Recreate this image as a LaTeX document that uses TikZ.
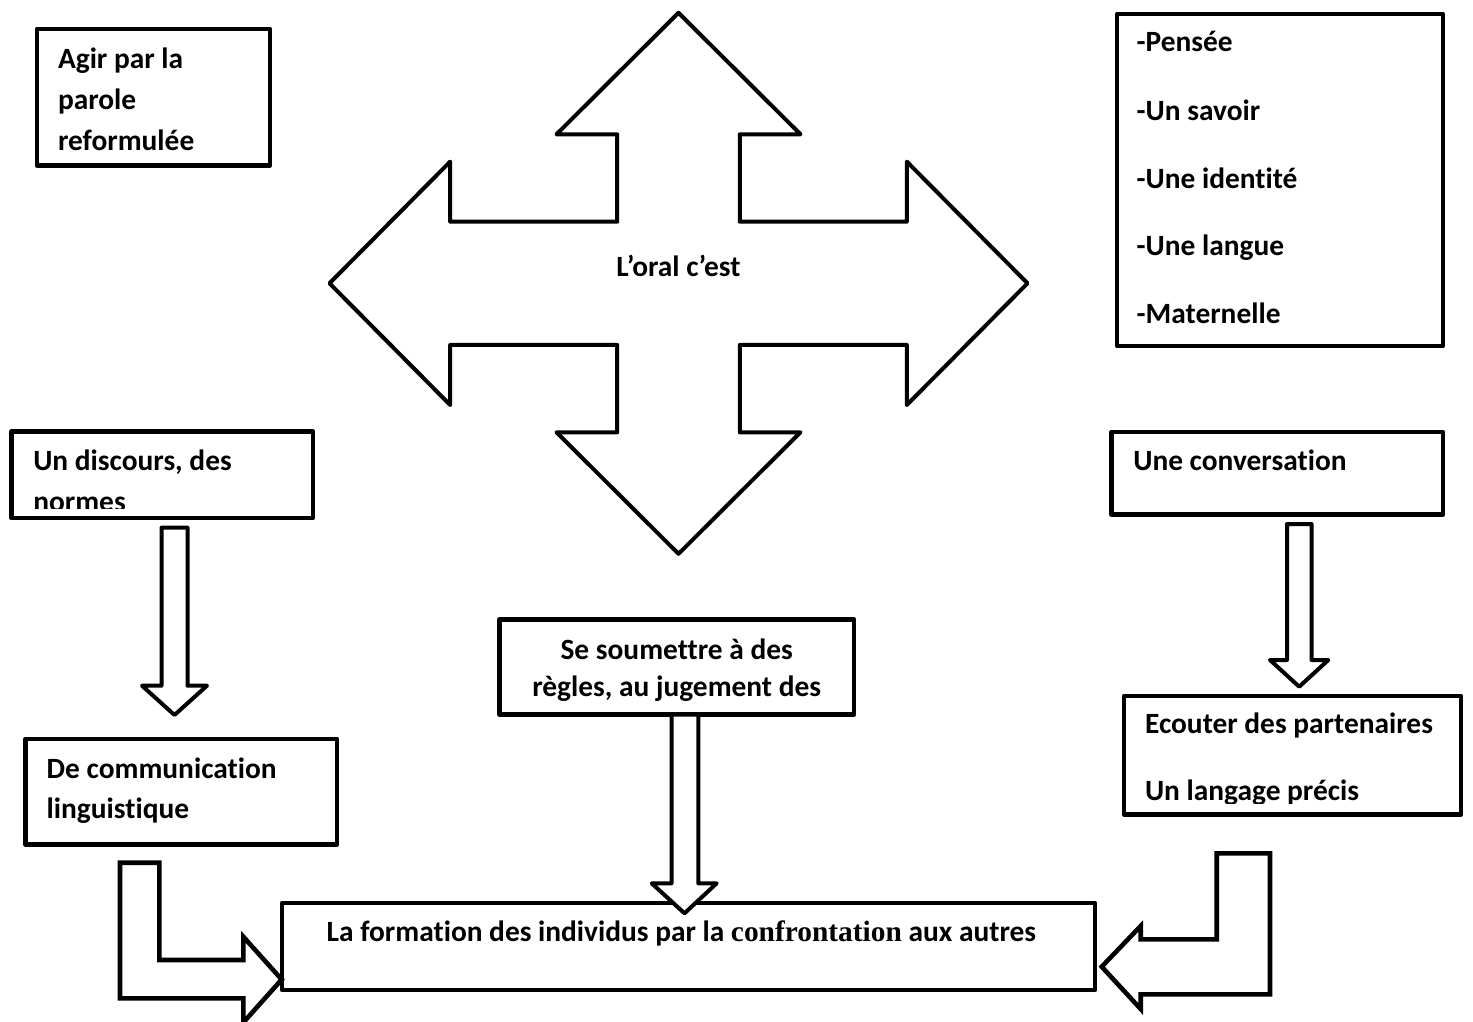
\documentclass[tikz,border=0pt]{standalone}
\usepackage{fontspec}
\setmainfont{Carlito}[Ligatures=NoCommon, RawFeature={-liga;-clig;-calt;-dlig}]
\newfontfamily\serifb{Liberation Serif}[Ligatures=NoCommon]
\newcommand\labfont{\bfseries\fontsize{29.4}{35}\selectfont}
\begin{document}
\begin{tikzpicture}[x=1pt,y=-1pt,
  box/.style={draw, line width=4.4pt, line join=round, inner sep=0pt, outer sep=0pt, anchor=north west},
  txt/.style={inner sep=0pt, outer sep=0pt, anchor=base west, font=\labfont},
  ctxt/.style={inner sep=0pt, outer sep=0pt, anchor=base, font=\labfont},
  blockarrow/.style={draw, fill=white, line width=4pt, line join=round},
  bentarrow/.style={draw, fill=white, line width=4.6pt, line join=miter},
]
\useasboundingbox (0,0) rectangle (1473,1021);

% ---- boxes
\node[box, minimum width=232.7pt, minimum height=136.7pt] (agir) at (37,28.8) {};
\node[box, minimum width=326pt, minimum height=332pt] (pensee) at (1117,14) {};
\node[box, minimum width=301.5pt, minimum height=86.5pt] (discours) at (11.5,431.5) {};
\node[box, minimum width=311.5pt, minimum height=105.5pt] (comm) at (25.5,739) {};
\node[box, minimum width=331.5pt, minimum height=82.5pt] (conv) at (1111.5,432) {};
\node[box, minimum width=337pt, minimum height=118.5pt] (ecout) at (1124,696) {};
\node[box, minimum width=354.5pt, minimum height=95pt] (soum) at (499.5,619.5) {};
\node[box, minimum width=813pt, minimum height=87pt] (form) at (282,903) {};

% ---- central cross
\begin{scope}[shift={(678.5,283.3)}]
\draw[blockarrow]
  (0,-270.5) -- (122,-149) -- (61.3,-149) -- (61.3,-61.6) -- (228.3,-61.6) -- (228.3,-121.7)
  -- (349,0) -- (228.3,121.7) -- (228.3,61.6) -- (61.3,61.6) -- (61.3,149) -- (122,149)
  -- (0,270.5) -- (-122,149) -- (-61.3,149) -- (-61.3,61.6) -- (-228.3,61.6) -- (-228.3,121.7)
  -- (-349,0) -- (-228.3,-121.7) -- (-228.3,-61.6) -- (-61.3,-61.6) -- (-61.3,-149) -- (-122,-149)
  -- cycle;
\end{scope}
\node[ctxt] (oral) at (678.5,276.7) {L’oral c’est};

% ---- down arrows
\draw[blockarrow] (161.5,527.7) -- (187.5,527.7) -- (187.5,685.7) -- (207,685.7)
  -- (174.5,715) -- (142,685.7) -- (161.5,685.7) -- cycle;
\draw[blockarrow] (1287,524) -- (1311.5,524) -- (1311.5,660) -- (1328.3,660)
  -- (1299.2,686.7) -- (1270,660) -- (1287,660) -- cycle;
\draw[blockarrow] (671.5,714.5) -- (698.3,714.5) -- (698.3,883.3) -- (716.7,883.3)
  -- (684.5,913.3) -- (651.7,883.3) -- (671.5,883.3) -- cycle;

% ---- bent arrows
\draw[bentarrow] (120,862.7) -- (159.3,862.7) -- (159.3,960) -- (243.3,960) -- (243.3,936.7)
  -- (281.7,979.5) -- (243.3,1022.5) -- (243.3,998.3) -- (120,998.3) -- cycle;
\draw[bentarrow] (1270,853.3) -- (1216.7,853.3) -- (1216.7,939.3) -- (1140.7,939.3) -- (1140.7,926)
  -- (1101.7,966.7) -- (1140.7,1009) -- (1140.7,994.3) -- (1270,994.3) -- cycle;

% ---- texts
\node[txt] (agirA) at (58,68) {Agir par la};
\node[txt] (agirB) at (58,109) {parole};
\node[txt] (agirC) at (58,150) {reformulée};

\node[txt] (penA) at (1136.7,51.7) {-Pensée};
\node[txt] (penB) at (1136.7,120) {-Un savoir};
\node[txt] (penC) at (1136.7,188.3) {-Une identité};
\node[txt] (penD) at (1136.7,255) {-Une langue};
\node[txt] (penE) at (1136.7,323.3) {-Maternelle};

\node[txt] (discA) at (33.3,470) {Un discours, des};
\begin{scope}
\clip (11.5,431.5) rectangle (313,508.3);
\node[txt] (discB) at (33.3,511) {normes};
\end{scope}

\node[txt] (commA) at (46.7,778.3) {De communication};
\node[txt] (commB) at (46.7,818.3) {linguistique};

\node[txt] (convA) at (1133.3,470) {Une conversation};

\node[txt] (ecoA) at (1145,733.3) {Ecouter des partenaires};
\begin{scope}
\clip (1124,696) rectangle (1461,803.3);
\node[txt] (ecoB) at (1145,800) {Un langage précis};
\end{scope}

\node[ctxt] (soumA) at (676.7,659.3) {Se soumettre à des};
\node[ctxt] (soumB) at (676.7,696.7) {règles, au jugement des};

\node[txt] (formA) at (326.7,941.7) {La formation des individus par la {\serifb\bfseries confrontation} aux autres};
\end{tikzpicture}
\end{document}
